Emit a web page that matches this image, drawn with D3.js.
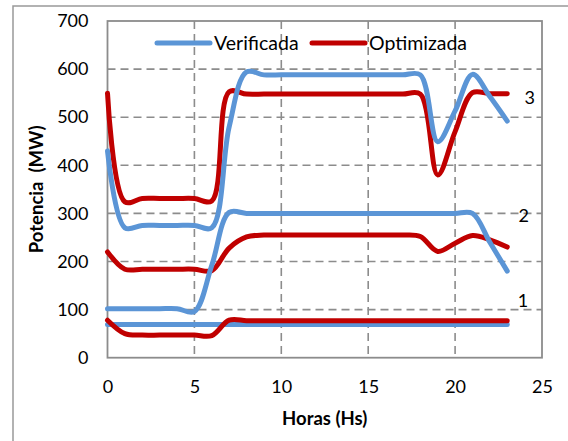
<!DOCTYPE html>
<html lang="es">
<head>
<meta charset="UTF-8">
<title>Potencia verificada vs optimizada</title>
<script src="https://d3js.org/d3.v7.min.js"></script>
<style>
  html, body { margin: 0; padding: 0; background: #fff; }
  svg { display: block; font-family: Lato, "Liberation Sans", sans-serif; }
</style>
</head>
<body>
<svg id="chart" width="568" height="441"></svg>
<script>
'use strict';

// hours of the day (x)
const hours = [0, 1, 2, 3, 4, 5, 6, 7, 8, 9, 10, 11, 12, 13, 14, 15, 16, 17, 18, 19, 20, 21, 22, 23];

// group 1
const verificada1 = [69, 69, 69, 69, 69, 69, 69, 69, 69, 69, 69, 69, 69, 69, 69, 69, 69, 69, 69, 69, 69, 69, 69, 69];
const optimizada1 = [78, 50, 47, 47, 47, 47, 46, 78, 77, 77, 77, 77, 77, 77, 77, 77, 77, 77, 77, 77, 77, 77, 77, 77];
// group 2
const verificada2 = [102, 102, 102, 102, 102, 96, 192, 302, 300, 300, 300, 300, 300, 300, 300, 300, 300, 300, 300, 300, 300, 300, 240, 180];
const optimizada2 = [220, 184, 184, 184, 184, 184, 181, 228, 251, 255, 255, 255, 255, 255, 255, 255, 255, 255, 252, 221, 238, 254, 245, 230];
// group 3
const verificada3 = [430, 270, 275, 275, 275, 275, 270, 480, 594, 588, 588, 588, 588, 588, 588, 588, 588, 588, 588, 449, 513, 589, 543, 492];
const optimizada3 = [550, 324, 331, 331, 331, 331, 326, 553, 548, 548, 548, 548, 548, 548, 548, 548, 548, 548, 548, 380, 470, 551, 549, 549];

const xTicks = [0, 5, 10, 15, 20, 25];
const yTicks = [0, 100, 200, 300, 400, 500, 600, 700];

// group labels: text, hour, value
const groupLabels = [
  { text: '1', hour: 23.6, value: 118 },
  { text: '2', hour: 23.65, value: 296 },
  { text: '3', hour: 24.0, value: 541 }
];

const BLUE = '#5b95d6';
const RED = '#c00000';
const GRID = '#8c8c8c';

const svg = d3.select('#chart');
const pLeft = 107.5, pTop = 21, pRight = 542, pBottom = 357.7;

const x = d3.scaleLinear().domain([0, 25]).range([pLeft, pRight]);
const y = d3.scaleLinear().domain([0, 700]).range([pBottom, pTop]);

// outer frame (only top and left are visible)
svg.append('path')
  .attr('d', 'M13,441V6H568')
  .attr('fill', 'none')
  .attr('stroke', '#999')
  .attr('stroke-width', 1.5);

// dashed grid
svg.append('g')
  .selectAll('line')
  .data(yTicks.filter(d => d > 0 && d < 700))
  .join('line')
  .attr('x1', pLeft).attr('x2', pRight)
  .attr('y1', d => y(d)).attr('y2', d => y(d))
  .attr('stroke', GRID).attr('stroke-width', 1.6)
  .attr('stroke-dasharray', '8,5');

svg.append('g')
  .selectAll('line')
  .data(xTicks.filter(d => d > 0 && d < 25))
  .join('line')
  .attr('x1', d => x(d)).attr('x2', d => x(d))
  .attr('y1', pTop).attr('y2', pBottom)
  .attr('stroke', GRID).attr('stroke-width', 1.6)
  .attr('stroke-dasharray', '8,5');

// plot border
svg.append('rect')
  .attr('x', pLeft).attr('y', pTop)
  .attr('width', pRight - pLeft).attr('height', pBottom - pTop)
  .attr('fill', 'none')
  .attr('stroke', '#8c8c8c').attr('stroke-width', 1.8);

// axes (labels only, lines come from border)
const xAxis = svg.append('g')
  .attr('transform', `translate(0,${pBottom})`)
  .call(d3.axisBottom(x).tickValues(xTicks).tickSize(0).tickPadding(23));
const yAxis = svg.append('g')
  .attr('transform', `translate(${pLeft},0)`)
  .call(d3.axisLeft(y).tickValues(yTicks).tickSize(0).tickPadding(19));
[xAxis, yAxis].forEach(a => {
  a.select('.domain').remove();
  a.selectAll('text')
    .attr('font-family', 'Lato, "Liberation Sans", sans-serif')
    .attr('font-size', 18)
    .attr('fill', '#000');
});

// series
const line = d3.line()
  .x((d, i) => x(hours[i]))
  .y(d => y(d))
  .curve(d3.curveCatmullRom.alpha(0.5));

const series = [
  { values: verificada1, color: BLUE },
  { values: optimizada1, color: RED },
  { values: optimizada2, color: RED },
  { values: optimizada3, color: RED },
  { values: verificada2, color: BLUE },
  { values: verificada3, color: BLUE }
];

svg.append('g')
  .selectAll('path')
  .data(series)
  .join('path')
  .attr('d', d => line(d.values))
  .attr('fill', 'none')
  .attr('stroke', d => d.color)
  .attr('stroke-width', 5)
  .attr('stroke-linecap', 'round')
  .attr('stroke-linejoin', 'round');

// group labels
svg.append('g')
  .selectAll('text')
  .data(groupLabels)
  .join('text')
  .attr('x', d => x(d.hour))
  .attr('y', d => y(d.value))
  .attr('dy', '0.35em')
  .attr('font-size', 18)
  .text(d => d.text);

// legend
const legendItems = [
  { name: 'Verificada', color: BLUE, x0: 157 },
  { name: 'Optimizada', color: RED, x0: 312 }
];
const lg = svg.append('g');
legendItems.forEach(it => {
  lg.append('line')
    .attr('x1', it.x0).attr('x2', it.x0 + 53)
    .attr('y1', 43).attr('y2', 43)
    .attr('stroke', it.color).attr('stroke-width', 5)
    .attr('stroke-linecap', 'round');
  lg.append('text')
    .attr('x', it.x0 + 57).attr('y', 50)
    .attr('font-size', 19.5)
    .text(it.name);
});

// axis titles
svg.append('text')
  .attr('x', (pLeft + pRight) / 2).attr('y', 425)
  .attr('text-anchor', 'middle')
  .attr('font-size', 18.5).attr('font-weight', 'bold')
  .text('Horas (Hs)');

svg.append('text')
  .attr('transform', `translate(43,${(pTop + pBottom) / 2}) rotate(-90)`)
  .attr('text-anchor', 'middle')
  .attr('font-size', 18.5).attr('font-weight', 'bold')
  .style('white-space', 'pre')
  .text('Potencia  (MW)');
</script>
</body>
</html>
